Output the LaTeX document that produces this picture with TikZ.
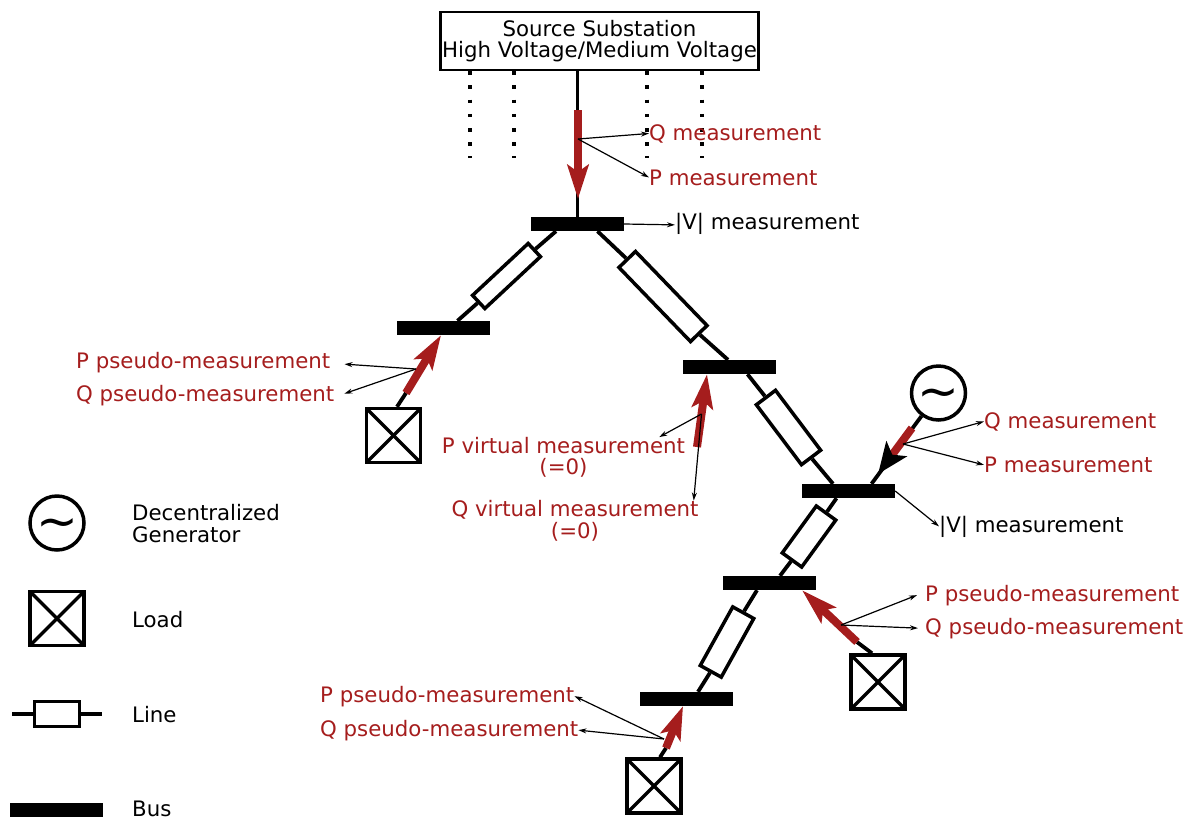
\documentclass[tikz,border=0pt]{standalone}
\usepackage{fontspec}
\setmainfont{DejaVu Sans}
\usetikzlibrary{arrows.meta}
\definecolor{meascolor}{HTML}{A51D1D}
\def\labelfont{\fontsize{21.3}{21.5}\selectfont}
\def\tildemark{\raisebox{-15.7pt}[0pt][0pt]{∼}}
\tikzset{
  bus/.style={fill=black,minimum width=93pt,minimum height=14pt,inner sep=0pt},
  linebox/.style={draw,line width=3.5pt,fill=white,inner sep=0pt},
  feeder/.style={line width=3.8pt},
  loadbox/.style={draw,line width=3.5pt,minimum size=54pt,inner sep=0pt,
    path picture={
      \draw[line width=3.5pt] (path picture bounding box.north west) -- (path picture bounding box.south east);
      \draw[line width=3.5pt] (path picture bounding box.south west) -- (path picture bounding box.north east);
    }},
  genbox/.style={draw,circle,line width=3.5pt,minimum size=54pt,inner sep=0pt,font=\fontsize{50}{50}\selectfont},
  power/.style={meascolor,line width=8pt,-{Stealth[length=#1,width=21pt,inset=7pt]}},
  power/.default=34pt,
  tap/.style={line width=1.2pt,-{Stealth[length=8pt,width=5pt]}},
  blacktext/.style={font=\labelfont,inner sep=0pt,anchor=base west},
  redtext/.style={blacktext,text=meascolor},
  dotline/.style={line width=3.5pt,dash pattern=on 3.5pt off 10.7pt}
}

\begin{document}
\begin{tikzpicture}[x=1pt,y=-1pt]
  \useasboundingbox (0,0) rectangle (1199,820);

  \node[draw,line width=2.5pt,fill=white,minimum width=318pt,minimum height=58pt,inner sep=0pt,font=\labelfont,align=center] (substation) at (599.5,41) {Source Substation\\High Voltage/Medium Voltage};
  \foreach \dx in {-129.5,-85.5,47.5,102.5}
    \draw[dotline] ([xshift=\dx pt]substation.south) -- +(0,87);

  \node[bus] (busA) at (577.5,224) {};
  \node[bus] (busB) at (443.5,328) {};
  \node[bus] (busC) at (729.5,367) {};
  \node[bus] (busD) at (848.5,491) {};
  \node[bus] (busE) at (769.5,583) {};
  \node[bus] (busF) at (686.5,699) {};

  \node[linebox,minimum width=76pt,minimum height=18pt,rotate=43] (lineA) at (506.5,276) {};
  \node[linebox,minimum width=103pt,minimum height=23pt,rotate=-46] (lineB) at (663,296.5) {};
  \node[linebox,minimum width=75pt,minimum height=24pt,rotate=-53] (lineC) at (788.5,427.5) {};
  \node[linebox,minimum width=58pt,minimum height=24pt,rotate=54] (lineD) at (809,536.5) {};
  \node[linebox,minimum width=67pt,minimum height=24pt,rotate=61] (lineE) at (727,642) {};

  \node[loadbox] (loadA) at (393.5,435.5) {};
  \node[loadbox] (loadB) at (878,682) {};
  \node[loadbox] (loadC) at (654,786) {};
  \node[genbox] (genA) at (938.5,393) {\tildemark};

  \draw[feeder] (substation.south -| busA.north) -- (busA.north);
  \draw[feeder] ([xshift=-21.5pt]busA.south) -- (lineA.east);
  \draw[feeder] (lineA.west) -- ([xshift=14pt]busB.north);
  \draw[feeder] ([xshift=20pt]busA.south) -- (lineB.west);
  \draw[feeder] (lineB.east) -- ([xshift=-1.5pt]busC.north);
  \draw[feeder] ([xshift=18pt]busC.south) -- (lineC.west);
  \draw[feeder] (lineC.east) -- ([xshift=-15.5pt]busD.north);
  \draw[feeder] ([xshift=-12pt]busD.south) -- (lineD.east);
  \draw[feeder] (lineD.west) -- ([xshift=10.5pt]busE.north);
  \draw[feeder] ([xshift=-12.5pt]busE.south) -- (lineE.east);
  \draw[feeder] (lineE.west) -- ([xshift=11.5pt]busF.north);
  \draw[feeder] (genA) -- ([xshift=23pt]busD.north);

  \coordinate (tailS) at (578,110);
  \coordinate (tipS) at (578,199);
  \coordinate (tailL) at (406,393);
  \coordinate (tailV) at (697,447);
  \coordinate (tailG) at (912,428);
  \coordinate (tipG) at (878,474);
  \coordinate (tailB) at (857,642);
  \coordinate (tailC) at (666,748);
  \draw[feeder] ([xshift=3.5pt]loadA.north) -- (tailL);
  \draw[feeder] ([xshift=-6pt]loadB.north) -- (tailB);
  \draw[feeder] ([xshift=6pt]loadC.north) -- (tailC);

  \draw[power] (tailS) -- (tipS);
  \draw[power] (tailL) -- ([xshift=-2.5pt]busB.south);
  \draw[power] (tailV) -- ([xshift=-22.5pt]busC.south);
  \draw[power=36pt] (tailB) -- ([xshift=32.5pt]busE.south);
  \draw[power=33pt] (tailC) -- ([xshift=-3.5pt]busF.south);
  \draw[meascolor,line width=8pt,-{Stealth[length=31pt,width=25pt,inset=7pt,black]}] (tailG) -- (tipG);

  \node[redtext] (lblQS) at (649,140) {Q measurement};
  \node[redtext] (lblPS) at (649,185) {P measurement};
  \node[blacktext] (lblVS) at (675,229) {|V| measurement};
  \node[redtext] (lblPL) at (76,368) {P pseudo-measurement};
  \node[redtext] (lblQL) at (76,401.5) {Q pseudo-measurement};
  \node[redtext,anchor=center,align=center] (lblPV) at (563.5,457.5) {P virtual measurement\\(=0)};
  \node[redtext,anchor=center,align=center] (lblQV) at (575,521) {Q virtual measurement\\(=0)};
  \node[redtext] (lblQG) at (984,428) {Q measurement};
  \node[redtext] (lblPG) at (984,472.5) {P measurement};
  \node[blacktext] (lblVG) at (939,532) {|V| measurement};
  \node[redtext] (lblPB) at (925,601) {P pseudo-measurement};
  \node[redtext] (lblQB) at (925,634) {Q pseudo-measurement};
  \node[redtext] (lblPC) at (320,702) {P pseudo-measurement};
  \node[redtext] (lblQC) at (320,736) {Q pseudo-measurement};

  \coordinate (tapS) at (578,139);
  \coordinate (tapL) at (416,369);
  \coordinate (tapV) at (701.5,414);
  \coordinate (tapG) at (903,444);
  \coordinate (tapB) at (841,625);
  \coordinate (tapC) at (664,739);
  \draw[tap] (tapS) -- (lblQS.west);
  \draw[tap] (tapS) -- (lblPS.west);
  \draw[tap] (busA.east) -- ([yshift=-1.5pt]lblVS.west);
  \draw[tap] (tapL) -- ([shift={(14,2)}]lblPL.east);
  \draw[tap] (tapL) -- ([shift={(10,-2)}]lblQL.east);
  \draw[tap] (tapV) -- ([xshift=-26pt]lblPV.north east);
  \draw[tap] (tapV) -- ([xshift=-5pt]lblQV.north east);
  \draw[tap] (tapG) -- (lblQG.west);
  \draw[tap] (tapG) -- (lblPG.west);
  \draw[tap] (busD.east) -- (lblVG.west);
  \draw[tap] (tapB) -- ([xshift=-8pt]lblPB.west);
  \draw[tap] (tapB) -- ([xshift=-7pt]lblQB.west);
  \draw[tap] (tapC) -- (lblPC.east);
  \draw[tap] (tapC) -- (lblQC.east);

  \node[genbox] (legendGen) at (57,523) {\tildemark};
  \node[loadbox] (legendLoad) at (57,618.5) {};
  \node[linebox,minimum width=45pt,minimum height=25pt] (legendLine) at (57,714) {};
  \coordinate (legendLineL) at (12,714);
  \coordinate (legendLineR) at (102,714);
  \draw[feeder] (legendLineL) -- (legendLine.west);
  \draw[feeder] (legendLine.east) -- (legendLineR);
  \node[bus] (legendBus) at (56.5,810) {};
  \node[blacktext,anchor=west,align=left] (lblGen) at (132,523.5) {Decentralized\\Generator};
  \node[blacktext] (lblLoad) at (132,627) {Load};
  \node[blacktext] (lblLine) at (132,722) {Line};
  \node[blacktext] (lblBus) at (132,816) {Bus};
\end{tikzpicture}
\end{document}
